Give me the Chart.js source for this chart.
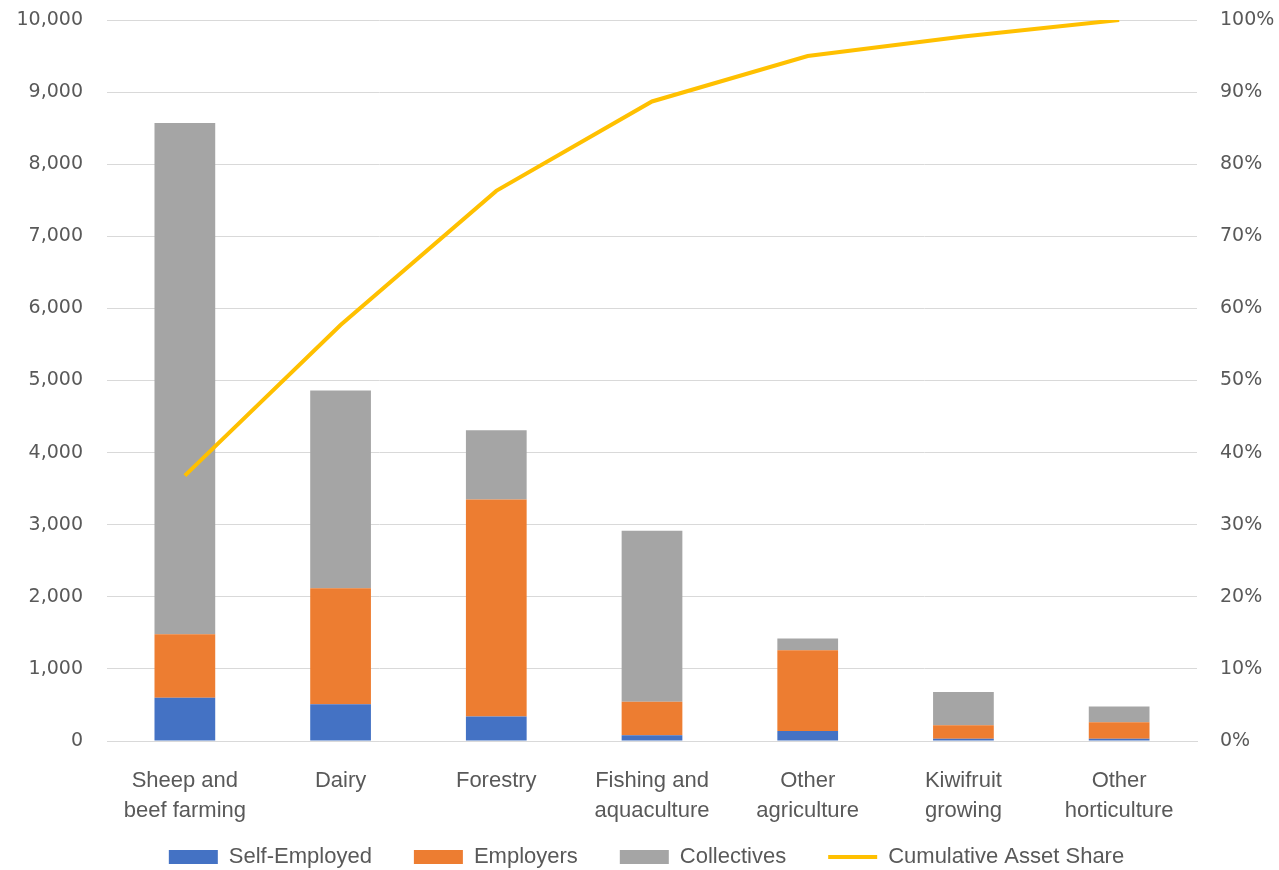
<!DOCTYPE html>
<html>
<head>
<meta charset="utf-8">
<script src="https://cdn.jsdelivr.net/npm/chart.js@4.4.1/dist/chart.umd.min.js"></script>
<style>
  html, body { margin: 0; padding: 0; background: #fff; }
  #wrap { width: 1279px; height: 870px; position: relative; }
</style>
</head>
<body>
<div id="wrap"><canvas id="asset-chart"></canvas></div>
<script>
// industries, largest first
const INDUSTRIES = [
  ["Sheep and", "beef farming"],
  ["Dairy"],
  ["Forestry"],
  ["Fishing and", "aquaculture"],
  ["Other", "agriculture"],
  ["Kiwifruit", "growing"],
  ["Other", "horticulture"],
];

const SELF_EMPLOYED = [600, 510, 340, 80, 140, 30, 30];
const EMPLOYERS = [880, 1610, 3010, 465, 1120, 190, 230];
const COLLECTIVES = [7090, 2740, 960, 2370, 160, 460, 220];
const CUMULATIVE_SHARE = [0.368, 0.577, 0.763, 0.887, 0.95, 0.977, 1.0];

const COLORS = {
  blue: "#4472C4",
  orange: "#ED7D31",
  grey: "#A5A5A5",
  gold: "#FFC000",
  grid: "#D9D9D9",
  text: "#595959",
};

Chart.defaults.color = COLORS.text;
Chart.defaults.font.family = "'Liberation Sans', Arial, sans-serif";

const tickFont = { family: "'DejaVu Sans', Verdana, sans-serif", size: 19 };

const ctx = document.getElementById("asset-chart");

new Chart(ctx, {
  type: "bar",
  data: {
    labels: INDUSTRIES,
    datasets: [
      {
        label: "Self-Employed",
        data: SELF_EMPLOYED,
        backgroundColor: COLORS.blue,
        borderWidth: 0,
        pointStyle: "rect",
        yAxisID: "y",
        order: 1,
      },
      {
        label: "Employers",
        data: EMPLOYERS,
        backgroundColor: COLORS.orange,
        borderWidth: 0,
        pointStyle: "rect",
        yAxisID: "y",
        order: 1,
      },
      {
        label: "Collectives",
        data: COLLECTIVES,
        backgroundColor: COLORS.grey,
        borderWidth: 0,
        pointStyle: "rect",
        yAxisID: "y",
        order: 1,
      },
      {
        type: "line",
        label: "Cumulative Asset Share",
        data: CUMULATIVE_SHARE,
        borderColor: COLORS.gold,
        backgroundColor: COLORS.gold,
        borderWidth: 4,
        pointRadius: 0,
        pointStyle: "line",
        tension: 0,
        yAxisID: "y1",
        order: 0,
      },
    ],
  },
  options: {
    responsive: true,
    maintainAspectRatio: false,
    animation: false,
    layout: {
      padding: { top: 20, bottom: -8, left: 14, right: 0 },
    },
    datasets: {
      bar: {
        barPercentage: 1,
        categoryPercentage: 0.39,
      },
    },
    scales: {
      x: {
        stacked: true,
        grid: { display: false },
        border: { display: true, color: COLORS.grid, width: 1 },
        ticks: {
          padding: 17,
          maxRotation: 0,
          autoSkip: false,
          font: { size: 22, lineHeight: 1.36 },
        },
        afterFit: (scale) => {
          scale.height = 63;
          // two-line labels run into the legend band, so don't clip them
          scale._computeLabelArea = () => undefined;
        },
      },
      y: {
        position: "left",
        stacked: true,
        min: 0,
        max: 10000,
        // invisible tick marks make the gap to the labels without padding the top
        grid: {
          color: COLORS.grid,
          lineWidth: 1,
          drawTicks: true,
          tickLength: 20,
          tickColor: "rgba(0,0,0,0)",
        },
        border: { display: false },
        ticks: {
          stepSize: 1000,
          padding: 4,
          font: tickFont,
          callback: (v) => v.toLocaleString("en-US"),
        },
        afterFit: (scale) => {
          scale.width = 93;
        },
      },
      y1: {
        position: "right",
        min: 0,
        max: 1,
        grid: {
          display: true,
          drawOnChartArea: false,
          drawTicks: true,
          tickLength: 19,
          tickColor: "rgba(0,0,0,0)",
        },
        border: { display: false },
        ticks: {
          stepSize: 0.1,
          padding: 4,
          font: tickFont,
          callback: (v) => Math.round(v * 100) + "%",
        },
        afterFit: (scale) => {
          scale.width = 82;
        },
      },
    },
    plugins: {
      legend: {
        position: "bottom",
        labels: {
          usePointStyle: true,
          pointStyleWidth: 49,
          boxHeight: 14,
          padding: 42,
          font: { size: 22 },
          sort: (a, b) => a.datasetIndex - b.datasetIndex,
        },
      },
      tooltip: { enabled: false },
    },
  },
});
</script>
</body>
</html>
